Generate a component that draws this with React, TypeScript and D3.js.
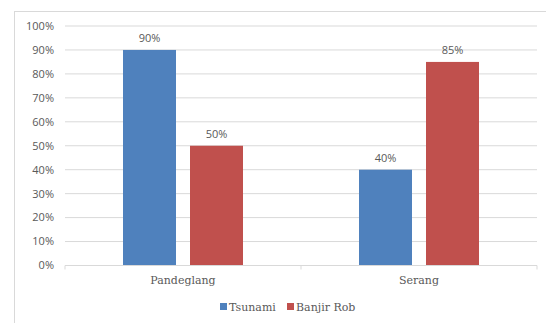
import React from "react";
import * as d3 from "d3";

const categories = ["Pandeglang", "Serang"];
const seriesNames = ["Tsunami", "Banjir Rob"];
const tsunami = [90, 40];
const banjirRob = [50, 85];
const yTicks = [0, 10, 20, 30, 40, 50, 60, 70, 80, 90, 100];
const colors = ["#4F81BD", "#C0504D"];

export default function App() {
  const W = 546, H = 323;
  const left = 65, right = 537, top = 26, bottom = 265.5;
  const x = d3.scaleBand<string>().domain(categories).range([left, right]);
  const y = d3.scaleLinear().domain([0, 100]).range([bottom, top]);
  const inner = d3.scaleBand<string>().domain(seriesNames).range([0, 120]).paddingInner(0.209);
  const series = [tsunami, banjirRob];
  const sans = "'Open Sans', 'DejaVu Sans', sans-serif";
  const serif = "'DejaVu Serif', serif";
  return (
    <div style={{ position: "absolute", left: 0, top: 0 }}>
      <svg width={W} height={H} style={{ display: "block" }}>
        <rect x={0} y={0} width={W} height={H} fill="#fff" />
        <rect x={14.5} y={11.5} width={W} height={H} fill="#fff" stroke="#d9d9d9" />
        {yTicks.map((t) => (
          <g key={t}>
            {t > 0 && (
              <line x1={left} x2={right} y1={y(t)} y2={y(t)} stroke="#d9d9d9" strokeWidth={1} />
            )}
            <text x={54} y={y(t)} dy="0.35em" textAnchor="end" fontSize={11} fill="#595959" fontFamily={sans}>
              {t}%
            </text>
          </g>
        ))}
        {series.map((vals, si) =>
          categories.map((c, ci) => {
            const bx = x(c)! + (x.bandwidth() - 120) / 2 + inner(seriesNames[si])!;
            const bw = inner.bandwidth();
            return (
              <g key={si + "-" + ci}>
                <rect x={bx} y={y(vals[ci])} width={bw} height={y(0) - y(vals[ci])} fill={colors[si]} />
                <text x={bx + bw / 2} y={y(vals[ci]) - 8} textAnchor="middle" fontSize={11} fill="#595959" fontFamily={sans}>
                  {vals[ci]}%
                </text>
              </g>
            );
          })
        )}
        <line x1={left} x2={right} y1={bottom} y2={bottom} stroke="#d9d9d9" />
        {[left, left + x.bandwidth(), right].map((tx, i) => (
          <line key={i} x1={tx} x2={tx} y1={bottom} y2={bottom + 4} stroke="#d9d9d9" />
        ))}
        {categories.map((c) => (
          <text key={c} x={x(c)! + x.bandwidth() / 2} y={284} textAnchor="middle" fontSize={11} fill="#595959" fontFamily={serif}>
            {c}
          </text>
        ))}
        {seriesNames.map((s, i) => {
          const lx = [220, 287][i];
          return (
            <g key={s}>
              <rect x={lx} y={303} width={7} height={7} fill={colors[i]} />
              <text x={lx + 9} y={311} fontSize={11} fill="#595959" fontFamily={serif}>
                {s}
              </text>
            </g>
          );
        })}
      </svg>
    </div>
  );
}
